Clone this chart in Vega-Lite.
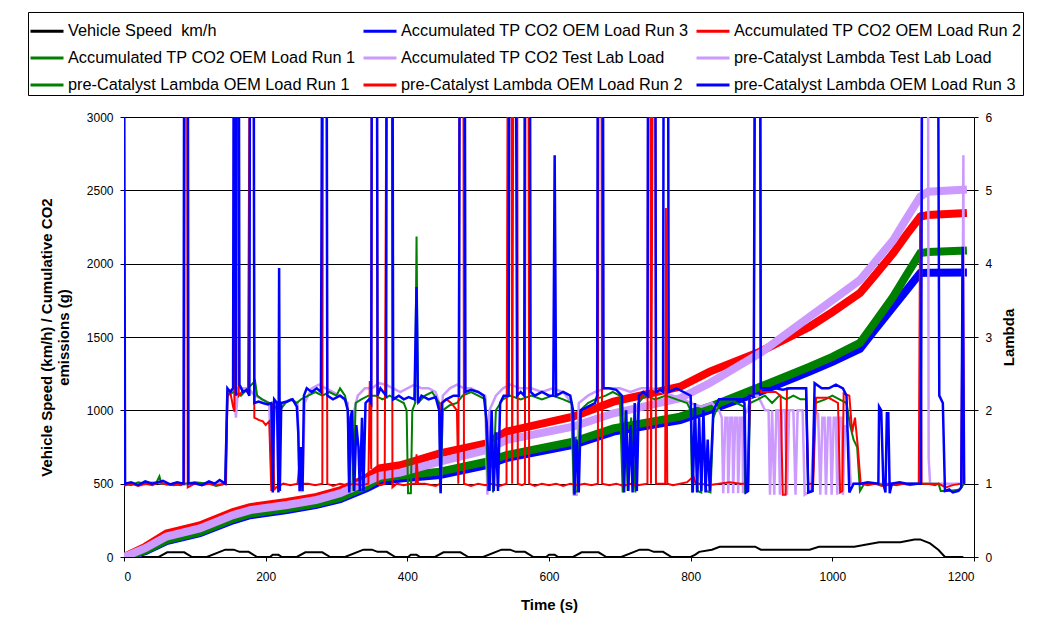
{
  "$schema": "https://vega.github.io/schema/vega-lite/v6.json",
  "width": 850,
  "height": 440,
  "autosize": {"type": "none"},
  "padding": {"left": 124, "top": 117, "right": 63, "bottom": 78},
  "background": "white",
  "config": {
    "font": "Liberation Sans",
    "view": {"stroke": null},
    "axis": {
      "labelFont": "Liberation Sans", "titleFont": "Liberation Sans",
      "labelColor": "#000", "titleColor": "#000", "domainColor": "#000", "tickColor": "#000",
      "labelFontSize": 12, "titleFontSize": 15, "titleFontWeight": "bold", "tickSize": 4
    }
  },
  "datasets": {
    "left": [
      {"t":0,"v":0,"s":"spd"},{"t":11,"v":0,"s":"spd"},{"t":15,"v":15,"s":"spd"},{"t":23,"v":15,"s":"spd"},{"t":28,"v":0,"s":"spd"},{"t":49,"v":0,"s":"spd"},{"t":61,"v":32,"s":"spd"},{"t":85,"v":32,"s":"spd"},{"t":96,"v":0,"s":"spd"},{"t":117,"v":0,"s":"spd"},{"t":143,"v":50,"s":"spd"},{"t":155,"v":50,"s":"spd"},{"t":163,"v":35,"s":"spd"},{"t":176,"v":35,"s":"spd"},{"t":188,"v":0,"s":"spd"},
      {"t":206,"v":0,"s":"spd"},{"t":210,"v":15,"s":"spd"},{"t":218,"v":15,"s":"spd"},{"t":223,"v":0,"s":"spd"},{"t":244,"v":0,"s":"spd"},{"t":256,"v":32,"s":"spd"},{"t":280,"v":32,"s":"spd"},{"t":291,"v":0,"s":"spd"},{"t":312,"v":0,"s":"spd"},{"t":338,"v":50,"s":"spd"},{"t":350,"v":50,"s":"spd"},{"t":358,"v":35,"s":"spd"},{"t":371,"v":35,"s":"spd"},{"t":383,"v":0,"s":"spd"},
      {"t":401,"v":0,"s":"spd"},{"t":405,"v":15,"s":"spd"},{"t":413,"v":15,"s":"spd"},{"t":418,"v":0,"s":"spd"},{"t":439,"v":0,"s":"spd"},{"t":451,"v":32,"s":"spd"},{"t":475,"v":32,"s":"spd"},{"t":486,"v":0,"s":"spd"},{"t":507,"v":0,"s":"spd"},{"t":533,"v":50,"s":"spd"},{"t":545,"v":50,"s":"spd"},{"t":553,"v":35,"s":"spd"},{"t":566,"v":35,"s":"spd"},{"t":578,"v":0,"s":"spd"},
      {"t":596,"v":0,"s":"spd"},{"t":600,"v":15,"s":"spd"},{"t":608,"v":15,"s":"spd"},{"t":613,"v":0,"s":"spd"},{"t":634,"v":0,"s":"spd"},{"t":646,"v":32,"s":"spd"},{"t":670,"v":32,"s":"spd"},{"t":681,"v":0,"s":"spd"},{"t":702,"v":0,"s":"spd"},{"t":728,"v":50,"s":"spd"},{"t":740,"v":50,"s":"spd"},{"t":748,"v":35,"s":"spd"},{"t":761,"v":35,"s":"spd"},{"t":773,"v":0,"s":"spd"},
      {"t":800,"v":0,"s":"spd"},{"t":806,"v":15,"s":"spd"},{"t":812,"v":35,"s":"spd"},{"t":830,"v":50,"s":"spd"},{"t":841,"v":70,"s":"spd"},{"t":891,"v":70,"s":"spd"},{"t":899,"v":50,"s":"spd"},{"t":968,"v":50,"s":"spd"},{"t":981,"v":70,"s":"spd"},{"t":1031,"v":70,"s":"spd"},{"t":1066,"v":100,"s":"spd"},{"t":1096,"v":100,"s":"spd"},{"t":1116,"v":120,"s":"spd"},{"t":1124,"v":120,"s":"spd"},{"t":1138,"v":93,"s":"spd"},{"t":1150,"v":48,"s":"spd"},{"t":1159,"v":0,"s":"spd"},{"t":1185,"v":0,"s":"spd"},

      {"t":0,"v":0,"s":"c3"},{"t":30,"v":40,"s":"c3"},{"t":60,"v":108,"s":"c3"},{"t":107,"v":162,"s":"c3"},{"t":154,"v":250,"s":"c3"},{"t":178,"v":285,"s":"c3"},{"t":230,"v":320,"s":"c3"},{"t":272,"v":355,"s":"c3"},{"t":305,"v":395,"s":"c3"},{"t":343,"v":470,"s":"c3"},{"t":361,"v":514,"s":"c3"},{"t":390,"v":535,"s":"c3"},{"t":446,"v":559,"s":"c3"},{"t":512,"v":627,"s":"c3"},{"t":540,"v":675,"s":"c3"},{"t":634,"v":764,"s":"c3"},{"t":691,"v":855,"s":"c3"},{"t":785,"v":934,"s":"c3"},{"t":827,"v":1002,"s":"c3"},{"t":898,"v":1127,"s":"c3"},{"t":968,"v":1264,"s":"c3"},{"t":1000,"v":1330,"s":"c3"},{"t":1039,"v":1420,"s":"c3"},{"t":1060,"v":1550,"s":"c3"},{"t":1086,"v":1707,"s":"c3"},{"t":1105,"v":1820,"s":"c3"},{"t":1124,"v":1936,"s":"c3"},{"t":1135,"v":1938,"s":"c3"},{"t":1190,"v":1940,"s":"c3"},

      {"t":0,"v":0,"s":"c1"},{"t":30,"v":45,"s":"c1"},{"t":60,"v":115,"s":"c1"},{"t":107,"v":170,"s":"c1"},{"t":154,"v":260,"s":"c1"},{"t":178,"v":295,"s":"c1"},{"t":230,"v":330,"s":"c1"},{"t":272,"v":365,"s":"c1"},{"t":305,"v":405,"s":"c1"},{"t":343,"v":485,"s":"c1"},{"t":361,"v":536,"s":"c1"},{"t":390,"v":555,"s":"c1"},{"t":446,"v":582,"s":"c1"},{"t":512,"v":650,"s":"c1"},{"t":540,"v":695,"s":"c1"},{"t":634,"v":786,"s":"c1"},{"t":691,"v":877,"s":"c1"},{"t":785,"v":957,"s":"c1"},{"t":827,"v":1025,"s":"c1"},{"t":898,"v":1161,"s":"c1"},{"t":968,"v":1297,"s":"c1"},{"t":1000,"v":1365,"s":"c1"},{"t":1039,"v":1460,"s":"c1"},{"t":1060,"v":1600,"s":"c1"},{"t":1086,"v":1775,"s":"c1"},{"t":1105,"v":1925,"s":"c1"},{"t":1124,"v":2072,"s":"c1"},{"t":1135,"v":2080,"s":"c1"},{"t":1190,"v":2090,"s":"c1"},

      {"t":0,"v":0,"s":"c2"},{"t":30,"v":70,"s":"c2"},{"t":60,"v":160,"s":"c2"},{"t":107,"v":215,"s":"c2"},{"t":154,"v":306,"s":"c2"},{"t":178,"v":340,"s":"c2"},{"t":230,"v":375,"s":"c2"},{"t":272,"v":410,"s":"c2"},{"t":305,"v":455,"s":"c2"},{"t":343,"v":540,"s":"c2"},{"t":361,"v":605,"s":"c2"},{"t":390,"v":625,"s":"c2"},{"t":446,"v":707,"s":"c2"},{"t":512,"v":775,"s":"c2"},{"t":540,"v":855,"s":"c2"},{"t":634,"v":957,"s":"c2"},{"t":691,"v":1059,"s":"c2"},{"t":785,"v":1161,"s":"c2"},{"t":827,"v":1264,"s":"c2"},{"t":898,"v":1400,"s":"c2"},{"t":968,"v":1570,"s":"c2"},{"t":1000,"v":1670,"s":"c2"},{"t":1039,"v":1800,"s":"c2"},{"t":1060,"v":1920,"s":"c2"},{"t":1086,"v":2072,"s":"c2"},{"t":1105,"v":2200,"s":"c2"},{"t":1124,"v":2320,"s":"c2"},{"t":1135,"v":2332,"s":"c2"},{"t":1190,"v":2345,"s":"c2"},

      {"t":0,"v":0,"s":"cL"},{"t":30,"v":60,"s":"cL"},{"t":60,"v":139,"s":"cL"},{"t":107,"v":195,"s":"cL"},{"t":154,"v":286,"s":"cL"},{"t":178,"v":320,"s":"cL"},{"t":230,"v":355,"s":"cL"},{"t":272,"v":389,"s":"cL"},{"t":305,"v":434,"s":"cL"},{"t":343,"v":514,"s":"cL"},{"t":361,"v":554,"s":"cL"},{"t":390,"v":575,"s":"cL"},{"t":446,"v":650,"s":"cL"},{"t":512,"v":730,"s":"cL"},{"t":540,"v":798,"s":"cL"},{"t":634,"v":889,"s":"cL"},{"t":691,"v":980,"s":"cL"},{"t":785,"v":1082,"s":"cL"},{"t":827,"v":1186,"s":"cL"},{"t":898,"v":1390,"s":"cL"},{"t":968,"v":1638,"s":"cL"},{"t":1000,"v":1750,"s":"cL"},{"t":1039,"v":1889,"s":"cL"},{"t":1060,"v":2010,"s":"cL"},{"t":1086,"v":2161,"s":"cL"},{"t":1105,"v":2310,"s":"cL"},{"t":1124,"v":2457,"s":"cL"},{"t":1135,"v":2490,"s":"cL"},{"t":1190,"v":2505,"s":"cL"}
    ],
    "lam": [
      {"t":0,"v":1.0,"s":"lL"},{"t":10,"v":1.0,"s":"lL"},{"t":25,"v":0.98,"s":"lL"},{"t":40,"v":1.02,"s":"lL"},{"t":60,"v":1.0,"s":"lL"},{"t":80,"v":0.99,"s":"lL"},{"t":100,"v":1.0,"s":"lL"},{"t":120,"v":1.01,"s":"lL"},{"t":143,"v":1.0,"s":"lL"},{"t":146,"v":2.25,"s":"lL"},{"t":155,"v":2.3,"s":"lL"},{"t":158,"v":1.9,"s":"lL"},{"t":161,"v":2.3,"s":"lL"},{"t":175,"v":2.3,"s":"lL"},{"t":185,"v":2.2,"s":"lL"},{"t":195,"v":2.15,"s":"lL"},{"t":205,"v":2.1,"s":"lL"},{"t":209,"v":0.9,"s":"lL"},{"t":213,"v":2.1,"s":"lL"},{"t":225,"v":2.1,"s":"lL"},{"t":235,"v":2.15,"s":"lL"},{"t":245,"v":2.1,"s":"lL"},{"t":248,"v":0.9,"s":"lL"},{"t":252,"v":0.9,"s":"lL"},{"t":255,"v":2.1,"s":"lL"},{"t":265,"v":2.3,"s":"lL"},{"t":275,"v":2.35,"s":"lL"},{"t":285,"v":2.3,"s":"lL"},{"t":295,"v":2.25,"s":"lL"},{"t":305,"v":2.2,"s":"lL"},{"t":316,"v":2.1,"s":"lL"},{"t":318,"v":0.9,"s":"lL"},{"t":322,"v":0.9,"s":"lL"},{"t":325,"v":2.0,"s":"lL"},{"t":330,"v":2.2,"s":"lL"},{"t":340,"v":2.3,"s":"lL"},{"t":350,"v":2.3,"s":"lL"},{"t":360,"v":2.37,"s":"lL"},{"t":370,"v":2.35,"s":"lL"},{"t":380,"v":2.3,"s":"lL"},{"t":390,"v":2.25,"s":"lL"},{"t":400,"v":2.3,"s":"lL"},{"t":410,"v":2.35,"s":"lL"},{"t":420,"v":2.3,"s":"lL"},{"t":430,"v":2.3,"s":"lL"},{"t":440,"v":2.25,"s":"lL"},{"t":445,"v":2.1,"s":"lL"},{"t":447,"v":0.87,"s":"lL"},{"t":450,"v":2.2,"s":"lL"},{"t":460,"v":2.3,"s":"lL"},{"t":470,"v":2.35,"s":"lL"},{"t":480,"v":2.3,"s":"lL"},{"t":490,"v":2.3,"s":"lL"},{"t":500,"v":2.25,"s":"lL"},{"t":510,"v":2.2,"s":"lL"},{"t":513,"v":0.85,"s":"lL"},{"t":516,"v":2.0,"s":"lL"},{"t":525,"v":2.2,"s":"lL"},{"t":535,"v":2.3,"s":"lL"},{"t":545,"v":2.35,"s":"lL"},{"t":560,"v":2.3,"s":"lL"},{"t":575,"v":2.3,"s":"lL"},{"t":590,"v":2.25,"s":"lL"},{"t":605,"v":2.3,"s":"lL"},{"t":620,"v":2.25,"s":"lL"},{"t":632,"v":2.1,"s":"lL"},{"t":635,"v":0.85,"s":"lL"},{"t":639,"v":0.85,"s":"lL"},{"t":642,"v":2.1,"s":"lL"},{"t":655,"v":2.2,"s":"lL"},{"t":665,"v":2.25,"s":"lL"},{"t":680,"v":2.3,"s":"lL"},{"t":700,"v":2.3,"s":"lL"},{"t":715,"v":2.25,"s":"lL"},{"t":730,"v":2.3,"s":"lL"},{"t":745,"v":2.3,"s":"lL"},{"t":760,"v":2.25,"s":"lL"},{"t":775,"v":2.2,"s":"lL"},{"t":790,"v":2.15,"s":"lL"},{"t":800,"v":2.1,"s":"lL"},{"t":815,"v":2.05,"s":"lL"},{"t":830,"v":2.1,"s":"lL"},{"t":840,"v":2.0,"s":"lL"},{"t":844,"v":1.9,"s":"lL"},{"t":846,"v":0.87,"s":"lL"},{"t":849,"v":1.9,"s":"lL"},{"t":852,"v":1.9,"s":"lL"},{"t":853,"v":0.87,"s":"lL"},{"t":856,"v":1.9,"s":"lL"},{"t":859,"v":1.9,"s":"lL"},{"t":860,"v":0.87,"s":"lL"},{"t":863,"v":1.9,"s":"lL"},{"t":866,"v":1.9,"s":"lL"},{"t":867,"v":0.87,"s":"lL"},{"t":870,"v":1.9,"s":"lL"},{"t":873,"v":1.9,"s":"lL"},{"t":874,"v":0.87,"s":"lL"},{"t":877,"v":1.95,"s":"lL"},{"t":880,"v":2.0,"s":"lL"},{"t":885,"v":2.2,"s":"lL"},{"t":895,"v":2.2,"s":"lL"},{"t":905,"v":2.0,"s":"lL"},{"t":910,"v":2.0,"s":"lL"},{"t":912,"v":0.85,"s":"lL"},{"t":915,"v":2.0,"s":"lL"},{"t":918,"v":0.85,"s":"lL"},{"t":921,"v":2.0,"s":"lL"},{"t":924,"v":2.0,"s":"lL"},{"t":926,"v":0.85,"s":"lL"},{"t":929,"v":2.0,"s":"lL"},{"t":933,"v":2.0,"s":"lL"},{"t":936,"v":0.85,"s":"lL"},{"t":939,"v":2.0,"s":"lL"},{"t":945,"v":2.0,"s":"lL"},{"t":948,"v":0.85,"s":"lL"},{"t":951,"v":2.0,"s":"lL"},{"t":958,"v":2.0,"s":"lL"},{"t":961,"v":0.85,"s":"lL"},{"t":964,"v":0.87,"s":"lL"},{"t":970,"v":0.9,"s":"lL"},{"t":975,"v":2.0,"s":"lL"},{"t":980,"v":1.95,"s":"lL"},{"t":983,"v":0.85,"s":"lL"},{"t":986,"v":1.9,"s":"lL"},{"t":989,"v":1.9,"s":"lL"},{"t":991,"v":0.85,"s":"lL"},{"t":994,"v":1.9,"s":"lL"},{"t":997,"v":1.9,"s":"lL"},{"t":999,"v":0.85,"s":"lL"},{"t":1002,"v":1.9,"s":"lL"},{"t":1005,"v":1.9,"s":"lL"},{"t":1007,"v":0.85,"s":"lL"},{"t":1010,"v":1.9,"s":"lL"},{"t":1013,"v":1.9,"s":"lL"},{"t":1015,"v":0.85,"s":"lL"},{"t":1018,"v":1.8,"s":"lL"},{"t":1022,"v":1.7,"s":"lL"},{"t":1026,"v":1.0,"s":"lL"},{"t":1040,"v":1.0,"s":"lL"},{"t":1060,"v":1.0,"s":"lL"},{"t":1080,"v":1.0,"s":"lL"},{"t":1100,"v":1.0,"s":"lL"},{"t":1124,"v":1.0,"s":"lL"},{"t":1127,"v":8,"s":"lL"},{"t":1135,"v":8,"s":"lL"},{"t":1136,"v":1.35,"s":"lL"},{"t":1138,"v":1.0,"s":"lL"},{"t":1160,"v":1.0,"s":"lL"},{"t":1183,"v":1.0,"s":"lL"},{"t":1185,"v":5.48,"s":"lL"},{"t":1186,"v":1.0,"s":"lL"},

      {"t":0,"v":1.0,"s":"l1"},{"t":10,"v":0.98,"s":"l1"},{"t":20,"v":1.02,"s":"l1"},{"t":30,"v":1.0,"s":"l1"},{"t":45,"v":1.0,"s":"l1"},{"t":50,"v":1.1,"s":"l1"},{"t":53,"v":1.0,"s":"l1"},{"t":70,"v":0.98,"s":"l1"},{"t":85,"v":1.0,"s":"l1"},{"t":100,"v":1.02,"s":"l1"},{"t":120,"v":1.0,"s":"l1"},{"t":130,"v":0.97,"s":"l1"},{"t":143,"v":1.0,"s":"l1"},{"t":146,"v":2.2,"s":"l1"},{"t":155,"v":2.25,"s":"l1"},{"t":165,"v":2.2,"s":"l1"},{"t":175,"v":2.3,"s":"l1"},{"t":185,"v":2.4,"s":"l1"},{"t":188,"v":2.2,"s":"l1"},{"t":195,"v":2.15,"s":"l1"},{"t":205,"v":2.1,"s":"l1"},{"t":212,"v":2.05,"s":"l1"},{"t":220,"v":2.0,"s":"l1"},{"t":228,"v":2.1,"s":"l1"},{"t":236,"v":2.15,"s":"l1"},{"t":244,"v":2.1,"s":"l1"},{"t":250,"v":2.15,"s":"l1"},{"t":260,"v":2.2,"s":"l1"},{"t":270,"v":2.25,"s":"l1"},{"t":280,"v":2.2,"s":"l1"},{"t":290,"v":2.25,"s":"l1"},{"t":300,"v":2.2,"s":"l1"},{"t":305,"v":2.3,"s":"l1"},{"t":312,"v":2.2,"s":"l1"},{"t":316,"v":2.0,"s":"l1"},{"t":318,"v":0.9,"s":"l1"},{"t":321,"v":1.9,"s":"l1"},{"t":324,"v":0.9,"s":"l1"},{"t":327,"v":2.1,"s":"l1"},{"t":335,"v":2.15,"s":"l1"},{"t":345,"v":2.2,"s":"l1"},{"t":355,"v":2.2,"s":"l1"},{"t":365,"v":2.15,"s":"l1"},{"t":375,"v":2.2,"s":"l1"},{"t":385,"v":2.15,"s":"l1"},{"t":395,"v":2.1,"s":"l1"},{"t":399,"v":2.0,"s":"l1"},{"t":401,"v":0.87,"s":"l1"},{"t":405,"v":0.87,"s":"l1"},{"t":407,"v":2.0,"s":"l1"},{"t":411,"v":2.1,"s":"l1"},{"t":413,"v":4.37,"s":"l1"},{"t":415,"v":2.1,"s":"l1"},{"t":425,"v":2.2,"s":"l1"},{"t":435,"v":2.25,"s":"l1"},{"t":445,"v":2.1,"s":"l1"},{"t":447,"v":0.9,"s":"l1"},{"t":450,"v":2.0,"s":"l1"},{"t":460,"v":2.07,"s":"l1"},{"t":470,"v":2.1,"s":"l1"},{"t":478,"v":2.2,"s":"l1"},{"t":490,"v":2.25,"s":"l1"},{"t":500,"v":2.2,"s":"l1"},{"t":510,"v":2.15,"s":"l1"},{"t":514,"v":0.9,"s":"l1"},{"t":518,"v":1.8,"s":"l1"},{"t":521,"v":0.88,"s":"l1"},{"t":525,"v":2.0,"s":"l1"},{"t":535,"v":2.15,"s":"l1"},{"t":545,"v":2.2,"s":"l1"},{"t":560,"v":2.15,"s":"l1"},{"t":575,"v":2.2,"s":"l1"},{"t":590,"v":2.15,"s":"l1"},{"t":605,"v":2.2,"s":"l1"},{"t":620,"v":2.15,"s":"l1"},{"t":632,"v":2.1,"s":"l1"},{"t":635,"v":0.88,"s":"l1"},{"t":640,"v":0.9,"s":"l1"},{"t":644,"v":2.0,"s":"l1"},{"t":655,"v":2.1,"s":"l1"},{"t":665,"v":2.15,"s":"l1"},{"t":680,"v":2.2,"s":"l1"},{"t":690,"v":2.25,"s":"l1"},{"t":700,"v":2.2,"s":"l1"},{"t":704,"v":0.88,"s":"l1"},{"t":708,"v":2.0,"s":"l1"},{"t":711,"v":0.9,"s":"l1"},{"t":716,"v":1.9,"s":"l1"},{"t":722,"v":0.88,"s":"l1"},{"t":726,"v":2.1,"s":"l1"},{"t":735,"v":2.2,"s":"l1"},{"t":750,"v":2.15,"s":"l1"},{"t":765,"v":2.2,"s":"l1"},{"t":780,"v":2.15,"s":"l1"},{"t":795,"v":2.1,"s":"l1"},{"t":800,"v":2.0,"s":"l1"},{"t":802,"v":0.88,"s":"l1"},{"t":806,"v":1.9,"s":"l1"},{"t":810,"v":0.9,"s":"l1"},{"t":815,"v":0.88,"s":"l1"},{"t":818,"v":1.8,"s":"l1"},{"t":822,"v":0.9,"s":"l1"},{"t":828,"v":0.88,"s":"l1"},{"t":832,"v":1.9,"s":"l1"},{"t":836,"v":2.0,"s":"l1"},{"t":845,"v":2.1,"s":"l1"},{"t":855,"v":2.15,"s":"l1"},{"t":865,"v":2.1,"s":"l1"},{"t":875,"v":2.05,"s":"l1"},{"t":877,"v":0.88,"s":"l1"},{"t":881,"v":0.9,"s":"l1"},{"t":884,"v":2.1,"s":"l1"},{"t":895,"v":2.15,"s":"l1"},{"t":905,"v":2.2,"s":"l1"},{"t":915,"v":2.1,"s":"l1"},{"t":925,"v":2.2,"s":"l1"},{"t":935,"v":2.15,"s":"l1"},{"t":945,"v":2.2,"s":"l1"},{"t":955,"v":2.15,"s":"l1"},{"t":963,"v":2.15,"s":"l1"},{"t":966,"v":0.88,"s":"l1"},{"t":972,"v":0.9,"s":"l1"},{"t":976,"v":2.1,"s":"l1"},{"t":990,"v":2.15,"s":"l1"},{"t":1000,"v":2.2,"s":"l1"},{"t":1010,"v":2.15,"s":"l1"},{"t":1020,"v":2.1,"s":"l1"},{"t":1025,"v":1.8,"s":"l1"},{"t":1030,"v":1.6,"s":"l1"},{"t":1035,"v":1.5,"s":"l1"},{"t":1039,"v":0.9,"s":"l1"},{"t":1045,"v":1.0,"s":"l1"},{"t":1060,"v":1.0,"s":"l1"},{"t":1080,"v":0.98,"s":"l1"},{"t":1100,"v":1.0,"s":"l1"},{"t":1125,"v":1.0,"s":"l1"},{"t":1150,"v":1.0,"s":"l1"},{"t":1153,"v":0.9,"s":"l1"},{"t":1165,"v":0.9,"s":"l1"},{"t":1180,"v":0.92,"s":"l1"},{"t":1186,"v":1.0,"s":"l1"},

      {"t":0,"v":0.97,"s":"l2"},{"t":10,"v":1.0,"s":"l2"},{"t":20,"v":0.97,"s":"l2"},{"t":30,"v":1.0,"s":"l2"},{"t":40,"v":0.98,"s":"l2"},{"t":50,"v":1.02,"s":"l2"},{"t":60,"v":0.99,"s":"l2"},{"t":70,"v":1.0,"s":"l2"},{"t":80,"v":0.98,"s":"l2"},{"t":85,"v":1.0,"s":"l2"},{"t":86,"v":8,"s":"l2"},{"t":89,"v":8,"s":"l2"},{"t":90,"v":0.95,"s":"l2"},{"t":100,"v":1.0,"s":"l2"},{"t":110,"v":0.98,"s":"l2"},{"t":120,"v":1.0,"s":"l2"},{"t":130,"v":0.98,"s":"l2"},{"t":144,"v":1.0,"s":"l2"},{"t":146,"v":2.2,"s":"l2"},{"t":150,"v":2.25,"s":"l2"},{"t":154,"v":2.05,"s":"l2"},{"t":156,"v":1.98,"s":"l2"},{"t":157,"v":8,"s":"l2"},{"t":161,"v":8,"s":"l2"},{"t":162,"v":2.2,"s":"l2"},{"t":168,"v":2.27,"s":"l2"},{"t":175,"v":2.25,"s":"l2"},{"t":178,"v":8,"s":"l2"},{"t":183,"v":8,"s":"l2"},{"t":184,"v":1.9,"s":"l2"},{"t":190,"v":1.87,"s":"l2"},{"t":196,"v":1.85,"s":"l2"},{"t":200,"v":1.8,"s":"l2"},{"t":205,"v":1.85,"s":"l2"},{"t":208,"v":0.9,"s":"l2"},{"t":210,"v":2.1,"s":"l2"},{"t":212,"v":0.92,"s":"l2"},{"t":215,"v":0.95,"s":"l2"},{"t":225,"v":1.0,"s":"l2"},{"t":235,"v":0.98,"s":"l2"},{"t":245,"v":1.0,"s":"l2"},{"t":248,"v":1.3,"s":"l2"},{"t":251,"v":1.0,"s":"l2"},{"t":260,"v":1.0,"s":"l2"},{"t":270,"v":0.98,"s":"l2"},{"t":280,"v":1.0,"s":"l2"},{"t":281,"v":8,"s":"l2"},{"t":286,"v":8,"s":"l2"},{"t":287,"v":1.0,"s":"l2"},{"t":295,"v":0.97,"s":"l2"},{"t":305,"v":1.0,"s":"l2"},{"t":315,"v":0.98,"s":"l2"},{"t":325,"v":1.0,"s":"l2"},{"t":335,"v":0.98,"s":"l2"},{"t":345,"v":1.0,"s":"l2"},{"t":347,"v":2.4,"s":"l2"},{"t":349,"v":1.2,"s":"l2"},{"t":350,"v":8,"s":"l2"},{"t":357,"v":8,"s":"l2"},{"t":358,"v":1.0,"s":"l2"},{"t":362,"v":0.98,"s":"l2"},{"t":368,"v":1.0,"s":"l2"},{"t":371,"v":8,"s":"l2"},{"t":378,"v":8,"s":"l2"},{"t":379,"v":0.95,"s":"l2"},{"t":385,"v":1.0,"s":"l2"},{"t":395,"v":0.98,"s":"l2"},{"t":405,"v":1.0,"s":"l2"},{"t":412,"v":1.0,"s":"l2"},{"t":413,"v":1.4,"s":"l2"},{"t":415,"v":1.0,"s":"l2"},{"t":425,"v":1.0,"s":"l2"},{"t":440,"v":0.97,"s":"l2"},{"t":446,"v":1.0,"s":"l2"},{"t":448,"v":2.1,"s":"l2"},{"t":455,"v":2.15,"s":"l2"},{"t":462,"v":2.1,"s":"l2"},{"t":470,"v":2.0,"s":"l2"},{"t":472,"v":1.0,"s":"l2"},{"t":474,"v":8,"s":"l2"},{"t":479,"v":8,"s":"l2"},{"t":480,"v":1.0,"s":"l2"},{"t":490,"v":0.97,"s":"l2"},{"t":500,"v":1.0,"s":"l2"},{"t":510,"v":0.98,"s":"l2"},{"t":520,"v":1.0,"s":"l2"},{"t":530,"v":0.97,"s":"l2"},{"t":540,"v":1.0,"s":"l2"},{"t":542,"v":8,"s":"l2"},{"t":547,"v":8,"s":"l2"},{"t":548,"v":1.0,"s":"l2"},{"t":550,"v":8,"s":"l2"},{"t":555,"v":8,"s":"l2"},{"t":556,"v":1.0,"s":"l2"},{"t":562,"v":0.98,"s":"l2"},{"t":566,"v":1.0,"s":"l2"},{"t":567,"v":8,"s":"l2"},{"t":571,"v":8,"s":"l2"},{"t":572,"v":1.0,"s":"l2"},{"t":580,"v":0.97,"s":"l2"},{"t":590,"v":1.0,"s":"l2"},{"t":600,"v":0.98,"s":"l2"},{"t":610,"v":1.0,"s":"l2"},{"t":620,"v":0.97,"s":"l2"},{"t":630,"v":1.0,"s":"l2"},{"t":640,"v":0.98,"s":"l2"},{"t":650,"v":1.0,"s":"l2"},{"t":660,"v":0.98,"s":"l2"},{"t":669,"v":1.0,"s":"l2"},{"t":670,"v":8,"s":"l2"},{"t":674,"v":8,"s":"l2"},{"t":675,"v":1.0,"s":"l2"},{"t":685,"v":0.98,"s":"l2"},{"t":695,"v":1.0,"s":"l2"},{"t":705,"v":0.97,"s":"l2"},{"t":715,"v":1.0,"s":"l2"},{"t":725,"v":0.98,"s":"l2"},{"t":739,"v":1.0,"s":"l2"},{"t":740,"v":8,"s":"l2"},{"t":743,"v":8,"s":"l2"},{"t":744,"v":1.0,"s":"l2"},{"t":747,"v":8,"s":"l2"},{"t":750,"v":8,"s":"l2"},{"t":751,"v":1.0,"s":"l2"},{"t":758,"v":1.0,"s":"l2"},{"t":764,"v":1.0,"s":"l2"},{"t":765,"v":4.76,"s":"l2"},{"t":767,"v":1.0,"s":"l2"},{"t":775,"v":0.98,"s":"l2"},{"t":785,"v":1.0,"s":"l2"},{"t":795,"v":1.02,"s":"l2"},{"t":804,"v":1.1,"s":"l2"},{"t":807,"v":1.0,"s":"l2"},{"t":815,"v":1.0,"s":"l2"},{"t":825,"v":0.98,"s":"l2"},{"t":840,"v":1.0,"s":"l2"},{"t":855,"v":1.02,"s":"l2"},{"t":870,"v":1.0,"s":"l2"},{"t":880,"v":1.0,"s":"l2"},{"t":884,"v":2.2,"s":"l2"},{"t":889,"v":2.23,"s":"l2"},{"t":891,"v":8,"s":"l2"},{"t":898,"v":8,"s":"l2"},{"t":899,"v":2.25,"s":"l2"},{"t":910,"v":2.25,"s":"l2"},{"t":920,"v":2.25,"s":"l2"},{"t":927,"v":2.2,"s":"l2"},{"t":930,"v":0.85,"s":"l2"},{"t":934,"v":0.85,"s":"l2"},{"t":936,"v":2.3,"s":"l2"},{"t":945,"v":2.3,"s":"l2"},{"t":955,"v":2.3,"s":"l2"},{"t":963,"v":2.3,"s":"l2"},{"t":966,"v":1.0,"s":"l2"},{"t":973,"v":1.0,"s":"l2"},{"t":977,"v":2.17,"s":"l2"},{"t":985,"v":2.17,"s":"l2"},{"t":995,"v":2.17,"s":"l2"},{"t":1008,"v":2.1,"s":"l2"},{"t":1011,"v":0.88,"s":"l2"},{"t":1014,"v":0.9,"s":"l2"},{"t":1016,"v":2.23,"s":"l2"},{"t":1024,"v":2.2,"s":"l2"},{"t":1028,"v":1.7,"s":"l2"},{"t":1032,"v":1.9,"s":"l2"},{"t":1036,"v":1.5,"s":"l2"},{"t":1040,"v":1.0,"s":"l2"},{"t":1050,"v":0.98,"s":"l2"},{"t":1060,"v":1.0,"s":"l2"},{"t":1070,"v":0.97,"s":"l2"},{"t":1080,"v":1.0,"s":"l2"},{"t":1090,"v":0.98,"s":"l2"},{"t":1100,"v":1.0,"s":"l2"},{"t":1110,"v":0.98,"s":"l2"},{"t":1122,"v":1.0,"s":"l2"},{"t":1124,"v":4.7,"s":"l2"},{"t":1126,"v":1.0,"s":"l2"},{"t":1135,"v":1.0,"s":"l2"},{"t":1145,"v":0.98,"s":"l2"},{"t":1150,"v":1.0,"s":"l2"},{"t":1160,"v":0.95,"s":"l2"},{"t":1170,"v":0.98,"s":"l2"},{"t":1182,"v":1.0,"s":"l2"},{"t":1184,"v":4.15,"s":"l2"},{"t":1186,"v":1.0,"s":"l2"},

      {"t":0,"v":8,"s":"l3"},{"t":1.5,"v":1.0,"s":"l3"},{"t":10,"v":1.02,"s":"l3"},{"t":20,"v":0.98,"s":"l3"},{"t":30,"v":1.03,"s":"l3"},{"t":40,"v":1.0,"s":"l3"},{"t":55,"v":1.04,"s":"l3"},{"t":65,"v":0.99,"s":"l3"},{"t":75,"v":1.02,"s":"l3"},{"t":84,"v":1.0,"s":"l3"},{"t":85,"v":8,"s":"l3"},{"t":90,"v":8,"s":"l3"},{"t":91,"v":1.0,"s":"l3"},{"t":100,"v":1.01,"s":"l3"},{"t":110,"v":0.98,"s":"l3"},{"t":120,"v":1.03,"s":"l3"},{"t":128,"v":1.0,"s":"l3"},{"t":135,"v":1.05,"s":"l3"},{"t":143,"v":1.0,"s":"l3"},{"t":146,"v":2.3,"s":"l3"},{"t":150,"v":2.25,"s":"l3"},{"t":154,"v":2.3,"s":"l3"},{"t":155,"v":8,"s":"l3"},{"t":157,"v":8,"s":"l3"},{"t":158,"v":2.2,"s":"l3"},{"t":159,"v":8,"s":"l3"},{"t":162,"v":8,"s":"l3"},{"t":163,"v":2.35,"s":"l3"},{"t":168,"v":2.25,"s":"l3"},{"t":173,"v":2.28,"s":"l3"},{"t":177,"v":2.2,"s":"l3"},{"t":178,"v":8,"s":"l3"},{"t":183,"v":8,"s":"l3"},{"t":184,"v":2.1,"s":"l3"},{"t":190,"v":2.12,"s":"l3"},{"t":196,"v":2.1,"s":"l3"},{"t":203,"v":2.08,"s":"l3"},{"t":208,"v":2.1,"s":"l3"},{"t":210,"v":0.88,"s":"l3"},{"t":212,"v":2.15,"s":"l3"},{"t":216,"v":2.1,"s":"l3"},{"t":218,"v":0.88,"s":"l3"},{"t":219,"v":3.94,"s":"l3"},{"t":220,"v":0.9,"s":"l3"},{"t":222,"v":2.1,"s":"l3"},{"t":230,"v":2.12,"s":"l3"},{"t":238,"v":2.15,"s":"l3"},{"t":244,"v":2.05,"s":"l3"},{"t":246,"v":1.7,"s":"l3"},{"t":248,"v":0.9,"s":"l3"},{"t":250,"v":1.5,"s":"l3"},{"t":252,"v":0.9,"s":"l3"},{"t":254,"v":2.2,"s":"l3"},{"t":258,"v":2.3,"s":"l3"},{"t":265,"v":2.25,"s":"l3"},{"t":272,"v":2.3,"s":"l3"},{"t":278,"v":2.25,"s":"l3"},{"t":280,"v":8,"s":"l3"},{"t":286,"v":8,"s":"l3"},{"t":287,"v":2.2,"s":"l3"},{"t":295,"v":2.15,"s":"l3"},{"t":305,"v":2.2,"s":"l3"},{"t":312,"v":2.15,"s":"l3"},{"t":316,"v":2.0,"s":"l3"},{"t":318,"v":0.88,"s":"l3"},{"t":320,"v":1.9,"s":"l3"},{"t":322,"v":2.0,"s":"l3"},{"t":325,"v":0.9,"s":"l3"},{"t":328,"v":1.8,"s":"l3"},{"t":331,"v":1.5,"s":"l3"},{"t":333,"v":0.9,"s":"l3"},{"t":336,"v":1.9,"s":"l3"},{"t":338,"v":0.9,"s":"l3"},{"t":341,"v":2.1,"s":"l3"},{"t":346,"v":2.15,"s":"l3"},{"t":349,"v":2.1,"s":"l3"},{"t":350,"v":8,"s":"l3"},{"t":357,"v":8,"s":"l3"},{"t":358,"v":2.2,"s":"l3"},{"t":362,"v":2.3,"s":"l3"},{"t":366,"v":2.25,"s":"l3"},{"t":370,"v":2.2,"s":"l3"},{"t":371,"v":8,"s":"l3"},{"t":379,"v":8,"s":"l3"},{"t":380,"v":2.15,"s":"l3"},{"t":388,"v":2.2,"s":"l3"},{"t":395,"v":2.15,"s":"l3"},{"t":402,"v":2.18,"s":"l3"},{"t":410,"v":2.15,"s":"l3"},{"t":413,"v":3.68,"s":"l3"},{"t":415,"v":2.1,"s":"l3"},{"t":420,"v":2.2,"s":"l3"},{"t":430,"v":2.15,"s":"l3"},{"t":440,"v":2.18,"s":"l3"},{"t":445,"v":2.0,"s":"l3"},{"t":447,"v":0.87,"s":"l3"},{"t":449,"v":2.1,"s":"l3"},{"t":455,"v":2.15,"s":"l3"},{"t":465,"v":2.2,"s":"l3"},{"t":473,"v":2.2,"s":"l3"},{"t":474,"v":8,"s":"l3"},{"t":481,"v":8,"s":"l3"},{"t":482,"v":2.25,"s":"l3"},{"t":490,"v":2.28,"s":"l3"},{"t":500,"v":2.25,"s":"l3"},{"t":508,"v":2.2,"s":"l3"},{"t":512,"v":1.85,"s":"l3"},{"t":516,"v":0.9,"s":"l3"},{"t":519,"v":2.0,"s":"l3"},{"t":522,"v":0.9,"s":"l3"},{"t":525,"v":1.7,"s":"l3"},{"t":528,"v":0.9,"s":"l3"},{"t":531,"v":2.1,"s":"l3"},{"t":536,"v":2.2,"s":"l3"},{"t":543,"v":2.2,"s":"l3"},{"t":544,"v":8,"s":"l3"},{"t":553,"v":8,"s":"l3"},{"t":555,"v":2.2,"s":"l3"},{"t":560,"v":2.25,"s":"l3"},{"t":565,"v":2.2,"s":"l3"},{"t":566,"v":8,"s":"l3"},{"t":573,"v":8,"s":"l3"},{"t":574,"v":2.25,"s":"l3"},{"t":580,"v":2.2,"s":"l3"},{"t":590,"v":2.25,"s":"l3"},{"t":600,"v":2.2,"s":"l3"},{"t":606,"v":2.2,"s":"l3"},{"t":608,"v":5.48,"s":"l3"},{"t":610,"v":2.2,"s":"l3"},{"t":620,"v":2.25,"s":"l3"},{"t":630,"v":2.2,"s":"l3"},{"t":634,"v":2.0,"s":"l3"},{"t":636,"v":0.85,"s":"l3"},{"t":639,"v":1.6,"s":"l3"},{"t":642,"v":0.88,"s":"l3"},{"t":645,"v":2.0,"s":"l3"},{"t":655,"v":2.05,"s":"l3"},{"t":665,"v":2.1,"s":"l3"},{"t":668,"v":2.2,"s":"l3"},{"t":669,"v":8,"s":"l3"},{"t":676,"v":8,"s":"l3"},{"t":677,"v":2.3,"s":"l3"},{"t":685,"v":2.3,"s":"l3"},{"t":695,"v":2.28,"s":"l3"},{"t":703,"v":2.2,"s":"l3"},{"t":706,"v":0.88,"s":"l3"},{"t":709,"v":2.0,"s":"l3"},{"t":712,"v":0.9,"s":"l3"},{"t":715,"v":1.8,"s":"l3"},{"t":718,"v":0.88,"s":"l3"},{"t":721,"v":2.1,"s":"l3"},{"t":724,"v":0.9,"s":"l3"},{"t":727,"v":2.2,"s":"l3"},{"t":733,"v":2.25,"s":"l3"},{"t":739,"v":2.2,"s":"l3"},{"t":740,"v":8,"s":"l3"},{"t":750,"v":8,"s":"l3"},{"t":751,"v":2.25,"s":"l3"},{"t":757,"v":2.28,"s":"l3"},{"t":761,"v":2.25,"s":"l3"},{"t":762,"v":8,"s":"l3"},{"t":768,"v":8,"s":"l3"},{"t":769,"v":2.25,"s":"l3"},{"t":780,"v":2.3,"s":"l3"},{"t":790,"v":2.25,"s":"l3"},{"t":800,"v":2.2,"s":"l3"},{"t":803,"v":0.88,"s":"l3"},{"t":806,"v":2.1,"s":"l3"},{"t":809,"v":0.88,"s":"l3"},{"t":812,"v":1.9,"s":"l3"},{"t":815,"v":0.9,"s":"l3"},{"t":818,"v":2.0,"s":"l3"},{"t":821,"v":0.88,"s":"l3"},{"t":824,"v":1.6,"s":"l3"},{"t":827,"v":0.9,"s":"l3"},{"t":832,"v":2.0,"s":"l3"},{"t":840,"v":2.15,"s":"l3"},{"t":850,"v":2.15,"s":"l3"},{"t":860,"v":2.15,"s":"l3"},{"t":870,"v":2.15,"s":"l3"},{"t":876,"v":2.1,"s":"l3"},{"t":878,"v":0.88,"s":"l3"},{"t":881,"v":0.9,"s":"l3"},{"t":883,"v":2.2,"s":"l3"},{"t":889,"v":2.2,"s":"l3"},{"t":891,"v":8,"s":"l3"},{"t":898,"v":8,"s":"l3"},{"t":899,"v":2.3,"s":"l3"},{"t":910,"v":2.3,"s":"l3"},{"t":920,"v":2.3,"s":"l3"},{"t":930,"v":2.28,"s":"l3"},{"t":940,"v":2.3,"s":"l3"},{"t":950,"v":2.3,"s":"l3"},{"t":963,"v":2.3,"s":"l3"},{"t":966,"v":0.88,"s":"l3"},{"t":972,"v":0.9,"s":"l3"},{"t":975,"v":2.37,"s":"l3"},{"t":985,"v":2.3,"s":"l3"},{"t":995,"v":2.3,"s":"l3"},{"t":1005,"v":2.35,"s":"l3"},{"t":1015,"v":2.3,"s":"l3"},{"t":1020,"v":2.2,"s":"l3"},{"t":1024,"v":0.88,"s":"l3"},{"t":1030,"v":1.0,"s":"l3"},{"t":1040,"v":1.0,"s":"l3"},{"t":1050,"v":1.02,"s":"l3"},{"t":1065,"v":1.0,"s":"l3"},{"t":1066,"v":2.05,"s":"l3"},{"t":1069,"v":2.0,"s":"l3"},{"t":1072,"v":1.0,"s":"l3"},{"t":1075,"v":0.88,"s":"l3"},{"t":1077,"v":1.96,"s":"l3"},{"t":1079,"v":1.96,"s":"l3"},{"t":1081,"v":0.87,"s":"l3"},{"t":1084,"v":1.0,"s":"l3"},{"t":1095,"v":1.02,"s":"l3"},{"t":1105,"v":1.0,"s":"l3"},{"t":1115,"v":1.0,"s":"l3"},{"t":1125,"v":1.0,"s":"l3"},{"t":1127,"v":8,"s":"l3"},{"t":1149,"v":8,"s":"l3"},{"t":1151,"v":2.2,"s":"l3"},{"t":1156,"v":2.1,"s":"l3"},{"t":1159,"v":0.9,"s":"l3"},{"t":1165,"v":0.92,"s":"l3"},{"t":1170,"v":0.88,"s":"l3"},{"t":1178,"v":0.9,"s":"l3"},{"t":1182,"v":0.95,"s":"l3"},{"t":1184,"v":4.23,"s":"l3"},{"t":1186,"v":1.0,"s":"l3"}
    ]
  },
  "encoding": {
    "x": {
      "field": "t", "type": "quantitative",
      "scale": {"domain": [0, 1200], "nice": false, "zero": false},
      "axis": {"values": [0, 200, 400, 600, 800, 1000, 1200], "format": "d", "grid": false, "title": "Time (s)", "labelPadding": 10, "titlePadding": 15}
    },
    "color": {
      "field": "s", "type": "nominal",
      "scale": {
        "domain": ["spd", "c3", "c2", "c1", "cL", "lL", "l1", "l2", "l3"],
        "range": ["#000000", "#0000FF", "#FF0000", "#008000", "#CC99FF", "#CC99FF", "#008000", "#FF0000", "#0000FF"]
      },
      "legend": {
        "title": null, "orient": "none", "direction": "horizontal", "legendX": -96, "legendY": -105, "columns": 3,
        "gridAlign": "all", "symbolType": "stroke", "symbolSize": 1089, "symbolStrokeWidth": 3,
        "labelFontSize": 16.3, "labelFont": "Liberation Sans", "labelColor": "#000", "labelLimit": 500, "labelOffset": 3,
        "strokeColor": "#000", "padding": 1, "rowPadding": -3.5, "columnPadding": 1,
        "labelExpr": "datum.label == 'spd' ? 'Vehicle Speed\u00a0 km/h' : datum.label == 'c3' ? 'Accumulated TP CO2 OEM Load Run 3' : datum.label == 'c2' ? 'Accumulated TP CO2 OEM Load Run 2' : datum.label == 'c1' ? 'Accumulated TP CO2 OEM Load Run 1' : datum.label == 'cL' ? 'Accumulated TP CO2 Test Lab Load' : datum.label == 'lL' ? 'pre-Catalyst Lambda Test Lab Load' : datum.label == 'l1' ? 'pre-Catalyst Lambda OEM Load Run 1' : datum.label == 'l2' ? 'pre-Catalyst Lambda OEM Load Run 2' : 'pre-Catalyst Lambda OEM Load Run 3'"
      }
    }
  },
  "layer": [
    {
      "data": {"name": "left"},
      "encoding": {
        "y": {
          "field": "v", "type": "quantitative",
          "scale": {"domain": [0, 3000], "nice": false},
          "axis": {
            "values": [0, 500, 1000, 1500, 2000, 2500, 3000], "format": "d", "grid": true, "gridColor": "#000", "gridWidth": 1,
            "labelPadding": 7, "titlePadding": 15,
            "title": ["Vehicle Speed (km/h) / Cumulative CO2", "emissions (g)"]
          }
        }
      },
      "layer": [
        {"transform": [{"filter": "datum.s == 'spd'"}], "mark": {"type": "line", "strokeWidth": 2, "clip": true}},
        {"transform": [{"filter": "datum.s == 'c3'"}], "mark": {"type": "line", "strokeWidth": 8, "clip": true}},
        {"transform": [{"filter": "datum.s == 'c1'"}], "mark": {"type": "line", "strokeWidth": 8, "clip": true}},
        {"transform": [{"filter": "datum.s == 'c2'"}], "mark": {"type": "line", "strokeWidth": 8, "clip": true}},
        {"transform": [{"filter": "datum.s == 'cL'"}], "mark": {"type": "line", "strokeWidth": 8, "clip": true}}
      ]
    },
    {
      "data": {"name": "lam"},
      "encoding": {
        "y": {
          "field": "v", "type": "quantitative",
          "scale": {"domain": [0, 6], "nice": false},
          "axis": {
            "orient": "right", "values": [0, 1, 2, 3, 4, 5, 6], "format": "d", "grid": false,
            "labelPadding": 7, "titlePadding": 10, "title": "Lambda", "titleAngle": 270, "titleBaseline": "top"
          }
        }
      },
      "layer": [
        {"transform": [{"filter": "datum.s == 'lL'"}], "mark": {"type": "line", "strokeWidth": 2.5, "clip": true}},
        {"transform": [{"filter": "datum.s == 'l1'"}], "mark": {"type": "line", "strokeWidth": 2, "clip": true}},
        {"transform": [{"filter": "datum.s == 'l2'"}], "mark": {"type": "line", "strokeWidth": 2, "clip": true}},
        {"transform": [{"filter": "datum.s == 'l3'"}], "mark": {"type": "line", "strokeWidth": 2.5, "clip": true}}
      ]
    }
  ],
  "resolve": {"scale": {"y": "independent"}}
}
